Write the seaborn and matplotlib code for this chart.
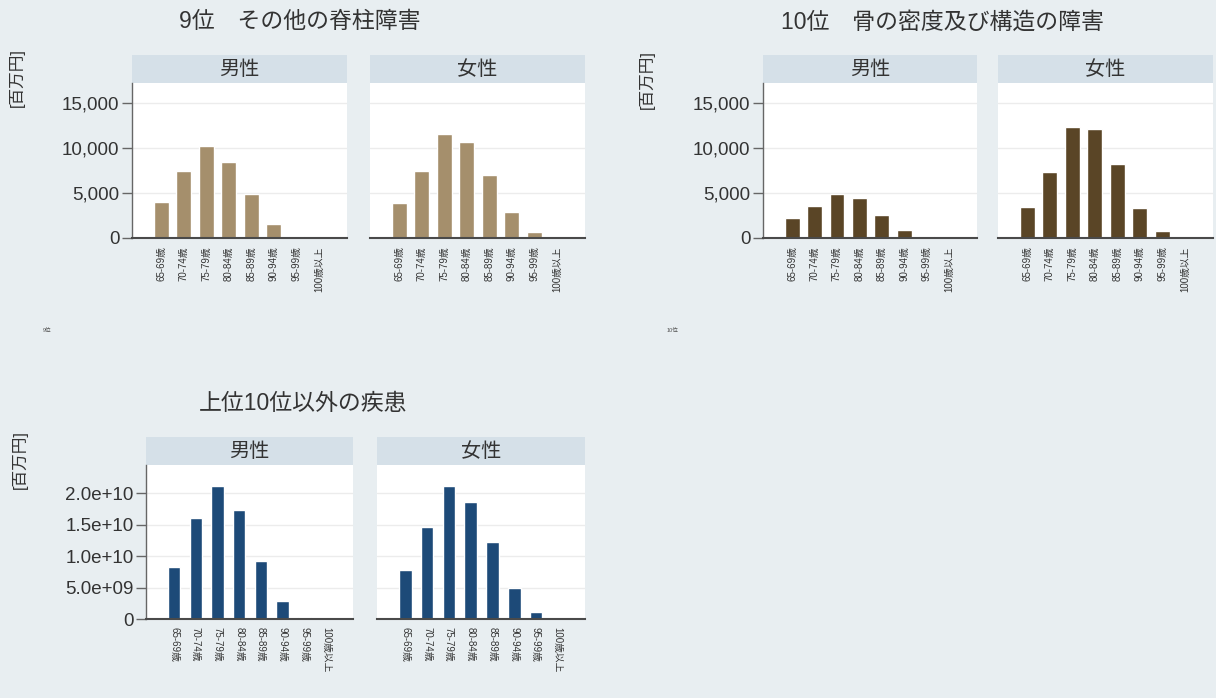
import matplotlib
matplotlib.use("Agg")
import matplotlib.pyplot as plt
import seaborn as sns
from matplotlib.patches import Rectangle

# age groups on the x axis
age_labels = ["65-69歳", "70-74歳", "75-79歳", "80-84歳",
              "85-89歳", "90-94歳", "95-99歳", "100歳以上"]
sex_labels = ["男性", "女性"]

# 9位 その他の脊柱障害 [百万円]
spine_male = [3970, 7450, 10220, 8480, 4890, 1520, 260, 30]
spine_female = [3850, 7440, 11520, 10700, 7000, 2930, 700, 40]

# 10位 骨の密度及び構造の障害 [百万円]
bone_male = [2190, 3590, 4850, 4480, 2560, 890, 220, 20]
bone_female = [3410, 7370, 12300, 12070, 8220, 3370, 780, 150]

# 上位10位以外の疾患
other_male = [8.33e9, 1.60e10, 2.11e10, 1.74e10, 9.2e9, 2.9e9, 3.7e8, 3e7]
other_female = [7.8e9, 1.47e10, 2.12e10, 1.86e10, 1.23e10, 4.99e9, 1.16e9, 5e7]

small_ticks = [0, 5000, 10000, 15000]
small_tick_labels = ["0", "5,000", "10,000", "15,000"]
big_ticks = [0, 5e9, 1e10, 1.5e10, 2e10]
big_tick_labels = ["0", "5.0e+09", "1.0e+10", "1.5e+10", "2.0e+10"]

titles = ["9位　その他の脊柱障害", "10位　骨の密度及び構造の障害", "上位10位以外の疾患"]

BG = "#e8eef1"
STRIP = "#d5e0e8"
TXT = "#333333"

sns.set_style("white")
# Arial-like digits, CJK glyphs from Noto
plt.rcParams["font.family"] = ["Liberation Sans", "Noto Sans CJK JP", "DejaVu Sans"]

W, H = 1216, 698
fig = plt.figure(figsize=(W / 100, H / 100), dpi=100, facecolor=BG)


def px_axes(x0, y0, x1, y1):
    """axes from pixel box (top-left origin)"""
    return fig.add_axes([x0 / W, 1 - y1 / H, (x1 - x0) / W, (y1 - y0) / H])


def draw_panel(ax, values, color, sex, ylim, ticks, tick_labels, show_y, width, rot):
    sns.barplot(x=age_labels, y=values, order=age_labels, color=color,
                saturation=1, width=width, ax=ax)
    ax.set_facecolor("white")
    ax.set_xlim(-1.3, 8.25)
    ax.set_ylim(0, ylim)
    ax.set_xlabel("")
    ax.set_ylabel("")
    ax.set_yticks(ticks)
    for t in ticks[1:]:
        ax.axhline(t, color="#ececec", lw=1, zorder=0)
    ax.set_axisbelow(True)
    ax.set_xticks(range(len(age_labels)))
    ax.set_xticklabels(age_labels, rotation=rot, fontsize=7, color=TXT)
    ax.tick_params(axis="x", length=0, pad=6)
    for s in ["top", "right"]:
        ax.spines[s].set_visible(False)
    ax.spines["bottom"].set_color("#4a4a4a")
    ax.spines["bottom"].set_linewidth(1.5)
    if show_y:
        ax.set_yticklabels(tick_labels, fontsize=13.5, color=TXT)
        ax.tick_params(axis="y", length=7, width=1, color="#666666", pad=2, left=True)
        ax.spines["left"].set_color("#666666")
        ax.spines["left"].set_linewidth(1)
    else:
        ax.set_yticklabels([])
        ax.tick_params(axis="y", length=0, left=False)
        ax.spines["left"].set_visible(False)
    # facet strip
    sh = 0.18
    ax.add_patch(Rectangle((0, 1), 1, sh, transform=ax.transAxes, clip_on=False,
                           facecolor=STRIP, edgecolor="none"))
    ax.text(0.5, 1 + sh / 2, sex, transform=ax.transAxes, ha="center", va="center",
            fontsize=14.5, color=TXT)


tan = "#a58f6c"
brown = "#5a4526"
navy = "#1d4a78"

# top-left group
a1 = px_axes(132, 83, 347, 238)
a2 = px_axes(370, 83, 585, 238)
draw_panel(a1, spine_male, tan, sex_labels[0], 17200, small_ticks, small_tick_labels, True, 0.66, 90)
draw_panel(a2, spine_female, tan, sex_labels[1], 17200, small_ticks, small_tick_labels, False, 0.66, 90)

# top-right group
b1 = px_axes(763, 83, 977, 238)
b2 = px_axes(998, 83, 1213, 238)
draw_panel(b1, bone_male, brown, sex_labels[0], 17200, small_ticks, small_tick_labels, True, 0.66, 90)
draw_panel(b2, bone_female, brown, sex_labels[1], 17200, small_ticks, small_tick_labels, False, 0.66, 90)

# bottom group
c1 = px_axes(146, 465, 353, 619)
c2 = px_axes(377, 465, 585, 619)
draw_panel(c1, other_male, navy, sex_labels[0], 2.45e10, big_ticks, big_tick_labels, True, 0.58, -90)
draw_panel(c2, other_female, navy, sex_labels[1], 2.45e10, big_ticks, big_tick_labels, False, 0.58, -90)

# titles
fig.text(300 / W, 1 - 22 / H, titles[0], ha="center", va="center", fontsize=16.5, color=TXT)
fig.text(942 / W, 1 - 22 / H, titles[1], ha="center", va="center", fontsize=16.5, color=TXT)
fig.text(303 / W, 1 - 404 / H, titles[2], ha="center", va="center", fontsize=16.5, color=TXT)

# y axis unit labels
for x, y in [(17, 48), (647, 50), (20, 430)]:
    fig.text(x / W, 1 - y / H, "[百万円]", rotation=90, ha="center", va="top",
             fontsize=12, color=TXT)

# tiny graph names
fig.text(47 / W, 1 - 330 / H, "9位", ha="center", va="center", fontsize=4, color="#555555")
fig.text(672 / W, 1 - 330 / H, "10位", ha="center", va="center", fontsize=4, color="#555555")

fig.savefig("out.png", dpi=100, facecolor=BG)
